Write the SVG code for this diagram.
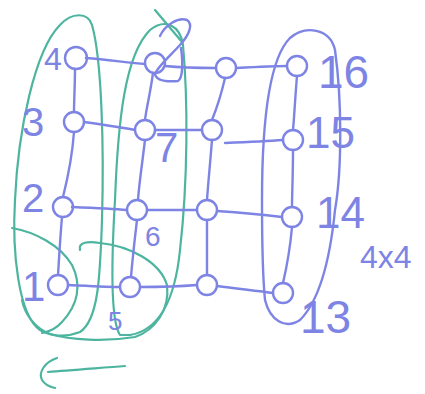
<svg xmlns="http://www.w3.org/2000/svg" width="425" height="394" viewBox="0 0 425 394">
<style>
.b{fill:none;stroke:#7d84e4;stroke-width:2.4;stroke-linecap:round;stroke-linejoin:round}
.g{fill:none;stroke:#4db59f;stroke-width:2.2;stroke-linecap:round;stroke-linejoin:round}
.n{fill:none;stroke:#7d84e4;stroke-width:2.4}
.t{fill:#7d84e4;font-family:"Liberation Sans",sans-serif}
</style>
<rect width="425" height="394" fill="#ffffff"/>
<g id="groups">
<path class="g" d="M40,330 C18,315 12,250 15,200 C18,130 35,50 60,25 C72,12 88,12 92,25 C102,60 104,150 102,220 C100,280 98,320 80,332 C65,338 50,336 40,330 Z"/>
<path class="g" d="M120,335 C110,320 112,250 115,200 C118,120 125,55 150,30 C165,18 180,25 183,45 C188,100 188,180 180,250 C175,300 160,330 130,335 Z"/>
<path class="g" d="M155,10 L182,42"/>
<path class="g" d="M12,228 C35,232 60,245 72,265 C82,285 78,305 62,322 C55,330 48,332 42,333"/>
<path class="g" d="M80,250 C78,242 88,241 100,243 C130,246 160,262 167,285 C170,310 155,330 135,337 C105,342 70,340 50,334 C35,328 25,315 22,300"/>
<path class="b" d="M262,200 C262,130 268,60 290,38 C305,25 330,28 335,50 C342,100 342,170 335,210 C330,260 320,300 300,320 C285,330 270,320 265,300 C262,270 262,240 262,200"/>
</g>
<g id="connectors">
<path class="b" d="M86,58 C110,60 130,63 145,64 M165,66 C185,68 205,68 216,68 M236,68 C255,67 275,66 287,66"/>
<path class="b" d="M84,122 C105,125 125,128 135,130 M155,130 C175,130 195,130 202,130 M225,143 C250,142 270,141 283,140"/>
<path class="b" d="M72,207 C95,208 115,209 127,210 M147,210 C170,210 190,210 197,210 M217,211 C245,213 265,215 282,217"/>
<path class="b" d="M68,285 C90,286 110,287 120,287 M140,287 C165,287 185,286 197,285 M217,286 C240,289 260,291 273,293"/>
<path class="b" d="M75,69 C75,85 74,100 74,112 M74,132 C72,160 66,185 63,197 M62,217 C60,240 59,260 58,275"/>
<path class="b" d="M153,73 C150,95 146,110 145,120 M145,140 C142,165 139,185 138,200 M137,220 C134,245 132,265 131,277"/>
<path class="b" d="M225,78 C220,100 214,115 212,120 M212,140 C210,165 208,185 207,200 M207,220 C207,245 207,262 207,275"/>
<path class="b" d="M297,76 C295,100 294,120 293,130 M293,150 C293,175 292,195 292,207 M292,227 C290,250 286,270 283,283"/>
<path class="g" d="M125,366 C100,368 70,370 48,372 M57,358 C45,362 38,372 42,380 C45,385 50,387 55,388"/>
</g>
<g id="n1"><circle class="n" cx="58" cy="285" r="10"/></g>
<g id="n2"><circle class="n" cx="63" cy="207" r="10"/></g>
<g id="n3"><circle class="n" cx="74" cy="122" r="10"/></g>
<g id="n4"><circle class="n" cx="76" cy="58" r="11"/></g>
<g id="n5"><circle class="n" cx="130" cy="287" r="10"/></g>
<g id="n6"><circle class="n" cx="137" cy="210" r="10"/></g>
<g id="n7"><circle class="n" cx="145" cy="130" r="10"/></g>
<g id="n8"><circle class="n" cx="155" cy="63" r="10"/><path class="b" d="M160,36 C165,25 178,17 187,20 C193,24 190,34 180,45 C170,56 158,66 155,74 C156,80 165,82 178,81 C183,78 183,62 181,48"/></g>
<g id="n9"><circle class="n" cx="207" cy="285" r="10"/></g>
<g id="n10"><circle class="n" cx="207" cy="210" r="10"/></g>
<g id="n11"><circle class="n" cx="212" cy="130" r="10"/></g>
<g id="n12"><circle class="n" cx="226" cy="68" r="10"/></g>
<g id="n13"><circle class="n" cx="283" cy="293" r="10"/></g>
<g id="n14"><circle class="n" cx="292" cy="217" r="10"/></g>
<g id="n15"><circle class="n" cx="293" cy="140" r="10"/></g>
<g id="n16"><circle class="n" cx="297" cy="66" r="10"/></g>
<g id="labels">
<text class="t" x="44" y="70" font-size="32">4</text>
<text class="t" x="22" y="136" font-size="40">3</text>
<text class="t" x="22" y="212" font-size="40">2</text>
<text class="t" x="22" y="301" font-size="42">1</text>
<text class="t" x="108" y="330" font-size="26">5</text>
<text class="t" x="145" y="246" font-size="28">6</text>
<text class="t" x="155" y="162" font-size="42">7</text>
<text class="t" x="318" y="88" font-size="46">16</text>
<text class="t" x="306" y="148" font-size="44">15</text>
<text class="t" x="316" y="228" font-size="44">14</text>
<text class="t" x="300" y="333" font-size="46">13</text>
<text class="t" x="360" y="268" font-size="32">4x4</text>
</g>
</svg>
